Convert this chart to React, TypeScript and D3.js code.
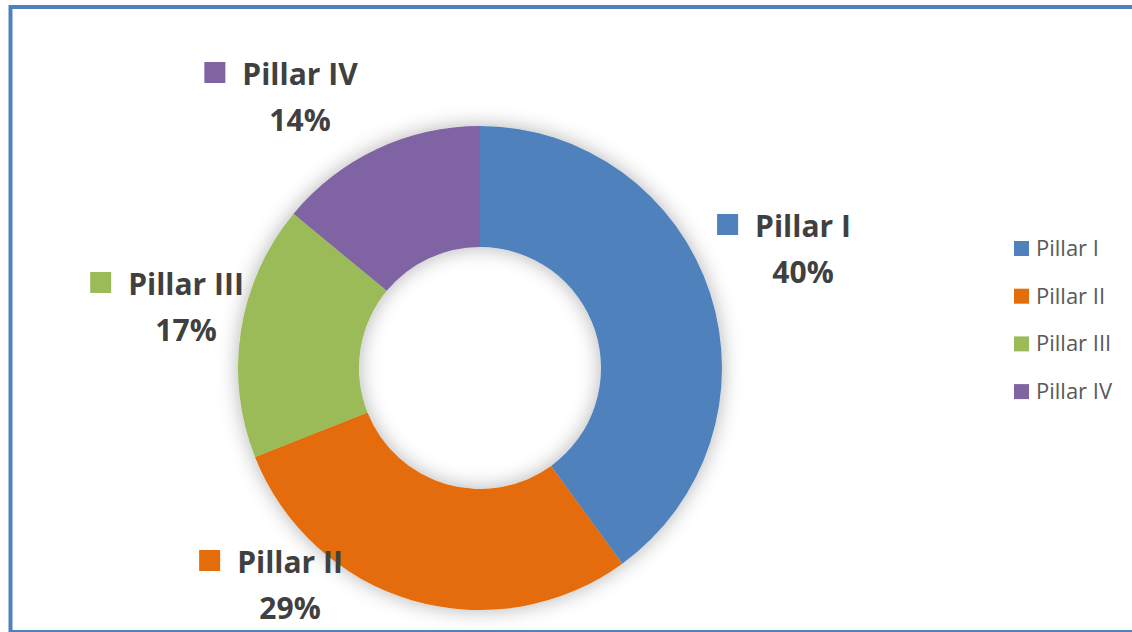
import React, { useEffect, useRef } from "react";
import * as d3 from "d3";

const categories = ["Pillar I", "Pillar II", "Pillar III", "Pillar IV"];
const values = [40, 29, 17, 14];
const colors = ["#4F81BD", "#E46C0A", "#9BBB59", "#8064A2"];
// label anchor (text center x, first baseline y) – layout only
const labelAnchors: [number, number][] = [
  [803, 237],
  [290, 573],
  [186, 295],
  [300, 85],
];

const W = 1132;
const H = 632;
const CX = 480;
const CY = 368;
const R_OUT = 242;
const R_IN = 121;

export default function App() {
  const ref = useRef<SVGSVGElement | null>(null);

  useEffect(() => {
    const svg = d3.select(ref.current);
    svg.selectAll("*").remove();

    const defs = svg.append("defs");
    const f = defs
      .append("filter")
      .attr("id", "shadow")
      .attr("x", "-30%")
      .attr("y", "-30%")
      .attr("width", "160%")
      .attr("height", "160%");
    f.append("feGaussianBlur").attr("in", "SourceAlpha").attr("stdDeviation", 10).attr("result", "blur");
    f.append("feFlood").attr("flood-color", "#000").attr("flood-opacity", 0.3).attr("result", "col");
    f.append("feComposite").attr("in", "col").attr("in2", "blur").attr("operator", "in").attr("result", "sh");
    const m = f.append("feMerge");
    m.append("feMergeNode").attr("in", "sh");
    m.append("feMergeNode").attr("in", "SourceGraphic");

    svg.append("rect").attr("width", W).attr("height", H).attr("fill", "#fff");

    // frame
    svg
      .append("rect")
      .attr("x", 10.5)
      .attr("y", 7)
      .attr("width", 1300)
      .attr("height", 625)
      .attr("fill", "none")
      .attr("stroke", "#4F81BD")
      .attr("stroke-width", 4);

    const pie = d3.pie<number>().sort(null).value((d) => d);
    const arc = d3.arc<d3.PieArcDatum<number>>().innerRadius(R_IN).outerRadius(R_OUT);
    const arcs = pie(values);

    const g = svg.append("g").attr("transform", `translate(${CX},${CY})`).attr("filter", "url(#shadow)");
    g.selectAll("path")
      .data(arcs)
      .enter()
      .append("path")
      .attr("d", arc as any)
      .attr("fill", (_d, i) => colors[i]);

    // data labels
    const total = d3.sum(values);
    categories.forEach((c, i) => {
      const [lx, ly] = labelAnchors[i];
      const lg = svg.append("g");
      const t = lg
        .append("text")
        .attr("x", lx)
        .attr("y", ly)
        .attr("text-anchor", "middle")
        .attr("font-family", "'Open Sans', sans-serif")
        .attr("font-weight", 700)
        .attr("font-size", 30)
        .attr("fill", "#404040")
        .text(c);
      const w = (t.node() as SVGTextElement).getComputedTextLength();
      lg.append("rect")
        .attr("x", lx - w / 2 - 17 - 21)
        .attr("y", ly - 23)
        .attr("width", 21)
        .attr("height", 21)
        .attr("fill", colors[i]);
      lg.append("text")
        .attr("x", lx)
        .attr("y", ly + 46)
        .attr("text-anchor", "middle")
        .attr("font-family", "'Open Sans', sans-serif")
        .attr("font-weight", 700)
        .attr("font-size", 30)
        .attr("fill", "#404040")
        .text(`${Math.round((values[i] / total) * 100)}%`);
    });

    // legend
    const leg = svg.append("g");
    categories.forEach((c, i) => {
      const by = 256 + i * 47.7;
      leg
        .append("rect")
        .attr("x", 1014)
        .attr("y", by - 15)
        .attr("width", 15)
        .attr("height", 15)
        .attr("fill", colors[i]);
      leg
        .append("text")
        .attr("x", 1036)
        .attr("y", by)
        .attr("font-family", "'Open Sans', sans-serif")
        .attr("font-size", 22)
        .attr("fill", "#595959")
        .text(c);
    });
  }, []);

  return (
    <svg
      ref={ref}
      width={W}
      height={H}
      style={{ position: "absolute", left: 0, top: 0, display: "block" }}
    />
  );
}
